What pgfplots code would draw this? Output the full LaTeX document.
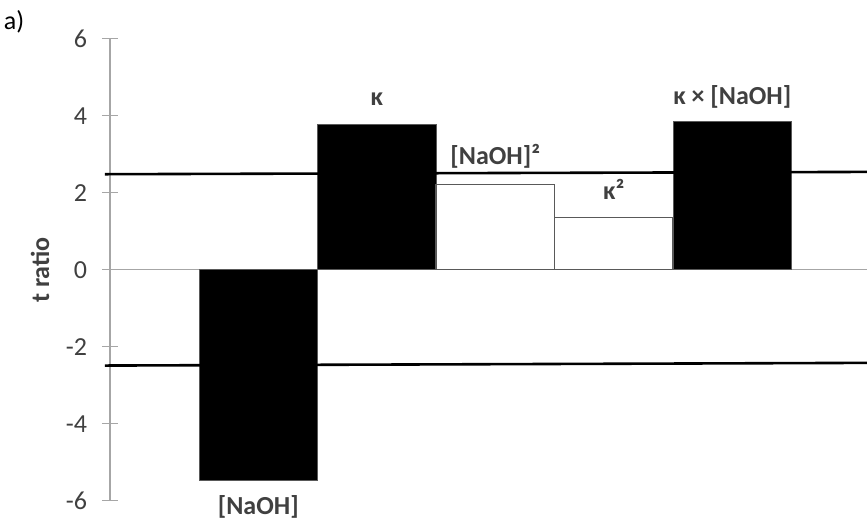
\documentclass[border=0pt]{standalone}
\usepackage{fontspec}
\setmainfont{Carlito}
\usepackage{pgfplots}
\pgfplotsset{compat=1.18}

\definecolor{axisgray}{HTML}{A6A6A6}
\definecolor{edgegray}{HTML}{595959}
\definecolor{ticktext}{HTML}{404040}

\begin{document}
\begin{tikzpicture}
\path[use as bounding box] (-55pt,-9.65pt) rectangle (378.5pt,250.35pt);
\begin{axis}[
  at={(0,0)}, anchor=south west,
  scale only axis,
  width=378.5pt, height=231pt,
  xmin=-0.2515, xmax=6.137,
  ymin=-6, ymax=6,
  ytick={-6,-4,...,6},
  axis x line=none,
  axis y line*=left,
  y axis line style={axisgray, line width=0.6pt},
  ytick style={axisgray, line width=0.6pt},
  tick align=center,
  major tick length=8pt,
  /pgf/number format/assume math mode=true,
  yticklabel style={font=\fontsize{13}{15}\selectfont, text=ticktext, xshift=-4pt},
  clip=false,
  ybar, bar width=1, bar shift=0pt,
]
% zero line
\draw[axisgray, line width=0.6pt] (axis cs:-0.2515,0) -- (axis cs:6.137,0);
% filled bars
\addplot[fill=black, draw=edgegray, line width=0.4pt] coordinates {(1,-5.47) (2,3.78) (5,3.85)};
% open bars
\addplot[fill=white, draw=edgegray, line width=0.6pt] coordinates {(3,2.21) (4,1.36)};
% critical t lines
\addplot[sharp plot, black, line width=1.3pt] coordinates {(-0.294,2.48) (6.137,2.54)};
\addplot[sharp plot, black, line width=1.3pt] coordinates {(-0.294,-2.49) (6.137,-2.42)};
% labels
\begin{scope}[font=\fontsize{13}{15}\selectfont\bfseries, text=ticktext]
\node at (axis cs:2,4.42) {κ};
\node at (axis cs:3,2.94) {[NaOH]²};
\node at (axis cs:4,2.08) {κ²};
\node at (axis cs:5,4.50) {κ × [NaOH]};
\node at (axis cs:1,-6.16) {[NaOH]};
\end{scope}
\end{axis}
\node[rotate=90, font=\fontsize{13}{15}\selectfont\bfseries, text=ticktext] at (-35pt,115.35pt) {t ratio};
\node[font=\fontsize{13}{15}\selectfont, text=black] at (-48pt,239.35pt) {a)};
\end{tikzpicture}
\end{document}
